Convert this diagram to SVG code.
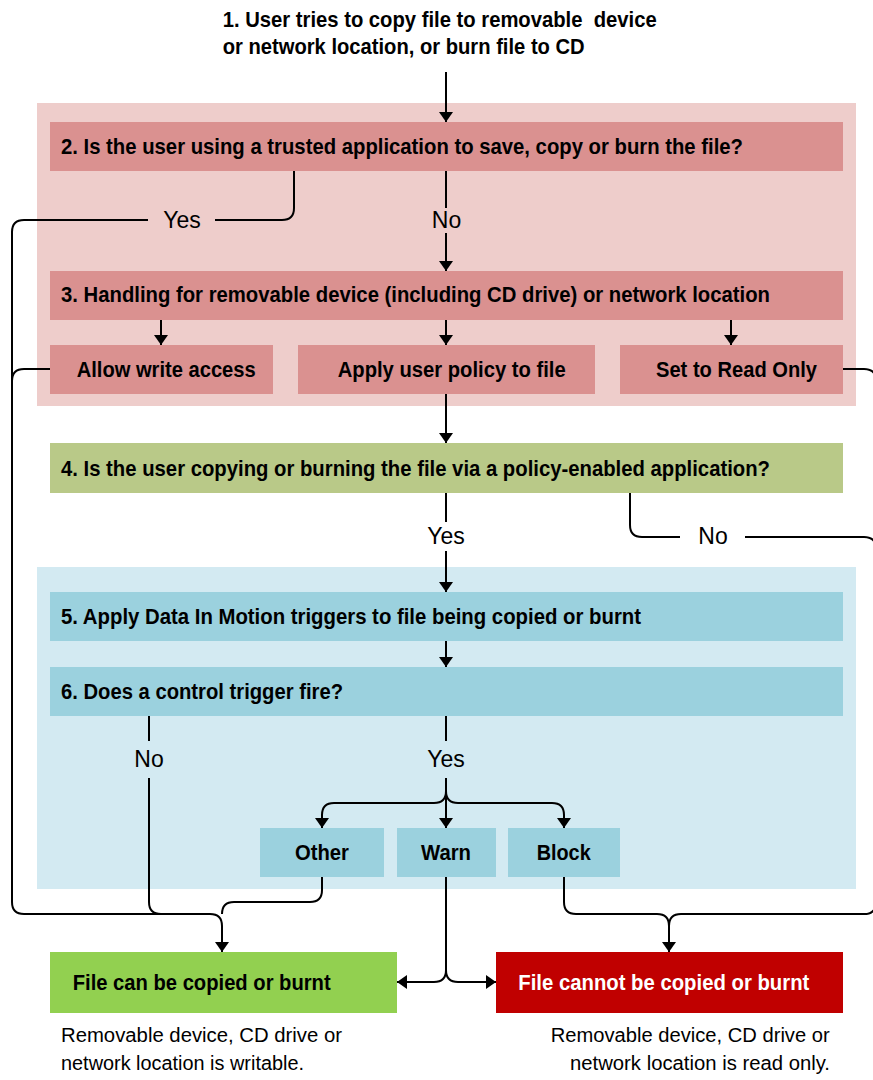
<svg xmlns="http://www.w3.org/2000/svg" width="873" height="1080" viewBox="0 0 873 1080">
<style>
text{font-family:"Liberation Sans",Arial,sans-serif;fill:#000}
.b{font-weight:bold;font-size:22px}
.lab{font-size:23px}
.cap{font-size:20px}
.w{fill:#fff}
.rc{fill:#eecdcb}
.rb{fill:#da9190}
.gb{fill:#b9c988}
.bc{fill:#d3eaf2}
.bb{fill:#9bd1de}
.conn path{fill:none;stroke:#000;stroke-width:2}
</style>
<defs>
<marker id="arr" markerUnits="userSpaceOnUse" markerWidth="10" markerHeight="14" refX="10" refY="7" orient="auto">
<path d="M0,0 L10,7 L0,14 z" fill="#000"/>
</marker>
</defs>
<rect class="rc" x="37" y="103" width="819" height="303"/>
<rect class="bc" x="37" y="567" width="819" height="322"/>
<g id="n1">
<text class="b" x="222.7" y="26.7" textLength="434" lengthAdjust="spacingAndGlyphs" xml:space="preserve">1. User tries to copy file to removable  device</text>
<text class="b" x="222.7" y="53.5" textLength="362" lengthAdjust="spacingAndGlyphs">or network location, or burn file to CD</text>
</g>
<g id="n2">
<rect class="rb" x="50" y="122" width="793" height="49"/>
<text class="b" x="61" y="153.5" textLength="682" lengthAdjust="spacingAndGlyphs">2. Is the user using a trusted application to save, copy or burn the file?</text>
</g>
<g id="n3">
<rect class="rb" x="50" y="271" width="793" height="49"/>
<text class="b" x="61" y="302" textLength="709" lengthAdjust="spacingAndGlyphs">3. Handling for removable device (including CD drive) or network location</text>
</g>
<g id="n3a">
<rect class="rb" x="50" y="345" width="223" height="49"/>
<text class="b" x="76.7" y="376.5" textLength="179" lengthAdjust="spacingAndGlyphs">Allow write access</text>
</g>
<g id="n3b">
<rect class="rb" x="298" y="345" width="297" height="49"/>
<text class="b" x="337.7" y="376.5" textLength="228" lengthAdjust="spacingAndGlyphs">Apply user policy to file</text>
</g>
<g id="n3c">
<rect class="rb" x="620" y="345" width="223" height="49"/>
<text class="b" x="656" y="376.5" textLength="161" lengthAdjust="spacingAndGlyphs">Set to Read Only</text>
</g>
<g id="n4">
<rect class="gb" x="50" y="443" width="793" height="50"/>
<text class="b" x="61" y="475.5" textLength="709" lengthAdjust="spacingAndGlyphs">4. Is the user copying or burning the file via a policy-enabled application?</text>
</g>
<g id="n5">
<rect class="bb" x="50" y="592" width="793" height="49"/>
<text class="b" x="61" y="623.5" textLength="580" lengthAdjust="spacingAndGlyphs">5. Apply Data In Motion triggers to file being copied or burnt</text>
</g>
<g id="n6">
<rect class="bb" x="50" y="667" width="793" height="49"/>
<text class="b" x="61" y="698.5" textLength="282" lengthAdjust="spacingAndGlyphs">6. Does a control trigger fire?</text>
</g>
<g id="n6a">
<rect class="bb" x="260" y="828" width="124" height="49"/>
<text class="b" x="295" y="860" textLength="54" lengthAdjust="spacingAndGlyphs">Other</text>
</g>
<g id="n6b">
<rect class="bb" x="397" y="828" width="99" height="49"/>
<text class="b" x="421" y="860" textLength="50" lengthAdjust="spacingAndGlyphs">Warn</text>
</g>
<g id="n6c">
<rect class="bb" x="508" y="828" width="112" height="49"/>
<text class="b" x="536.7" y="860" textLength="54" lengthAdjust="spacingAndGlyphs">Block</text>
</g>
<g id="n7">
<rect x="50" y="952" width="347" height="61" fill="#92d050"/>
<text class="b" x="72.7" y="990" textLength="258" lengthAdjust="spacingAndGlyphs">File can be copied or burnt</text>
<text class="cap" x="61" y="1041.7" textLength="281" lengthAdjust="spacingAndGlyphs">Removable device, CD drive or</text>
<text class="cap" x="61" y="1070" textLength="243" lengthAdjust="spacingAndGlyphs">network location is writable.</text>
</g>
<g id="n8">
<rect x="496" y="952" width="347" height="61" fill="#c00000"/>
<text class="b w" x="518.3" y="990" textLength="291" lengthAdjust="spacingAndGlyphs">File cannot be copied or burnt</text>
<text class="cap" x="550.7" y="1041.7" textLength="279" lengthAdjust="spacingAndGlyphs">Removable device, CD drive or</text>
<text class="cap" x="570" y="1070" textLength="260" lengthAdjust="spacingAndGlyphs">network location is read only.</text>
</g>
<g id="connectors" class="conn">
<path d="M446,72 V122" marker-end="url(#arr)"/>
<path d="M446,171 V208"/>
<path d="M446,233 V271" marker-end="url(#arr)"/>
<path d="M294,171 V208 Q294,220 282,220 H215"/>
<path d="M148,220 H24 Q12,220 12,232 V902 Q12,914 24,914 H210 Q222,914 222,926 V952" marker-end="url(#arr)"/>
<path d="M50,369 H24 Q12,369 12,381"/>
<path d="M161,320 V345" marker-end="url(#arr)"/>
<path d="M446,320 V345" marker-end="url(#arr)"/>
<path d="M731,320 V345" marker-end="url(#arr)"/>
<path d="M843,369 H864 Q876,369 876,381 V902 Q876,914 864,914 H681 Q669,914 669,926 V952" marker-end="url(#arr)"/>
<path d="M446,394 V443" marker-end="url(#arr)"/>
<path d="M446,493 V522"/>
<path d="M446,551 V592" marker-end="url(#arr)"/>
<path d="M630,493 V525 Q630,537 642,537 H680"/>
<path d="M745,537 H864 Q876,537 876,549"/>
<path d="M446,641 V667" marker-end="url(#arr)"/>
<path d="M149,716 V741"/>
<path d="M149,778 V902 Q149,914 161,914"/>
<path d="M446,716 V741"/>
<path d="M446,778 V828" marker-end="url(#arr)"/>
<path d="M446,791 Q446,803 434,803 H334 Q322,803 322,815 V828" marker-end="url(#arr)"/>
<path d="M446,791 Q446,803 458,803 H552 Q564,803 564,815 V828" marker-end="url(#arr)"/>
<path d="M322,877 V890 Q322,902 310,902 H234 Q222,902 222,914"/>
<path d="M564,877 V902 Q564,914 576,914 H657 Q669,914 669,926"/>
<path d="M446,877 V970 Q446,982 434,982 H397" marker-end="url(#arr)"/>
<path d="M446,970 Q446,982 458,982 H496" marker-end="url(#arr)"/>
</g>
<g id="labels">
<text class="lab" x="182" y="227.7" text-anchor="middle">Yes</text>
<text class="lab" x="446.5" y="227.7" text-anchor="middle">No</text>
<text class="lab" x="446" y="544" text-anchor="middle">Yes</text>
<text class="lab" x="713" y="544" text-anchor="middle">No</text>
<text class="lab" x="149" y="766.7" text-anchor="middle">No</text>
<text class="lab" x="446" y="766.7" text-anchor="middle">Yes</text>
</g>
</svg>
